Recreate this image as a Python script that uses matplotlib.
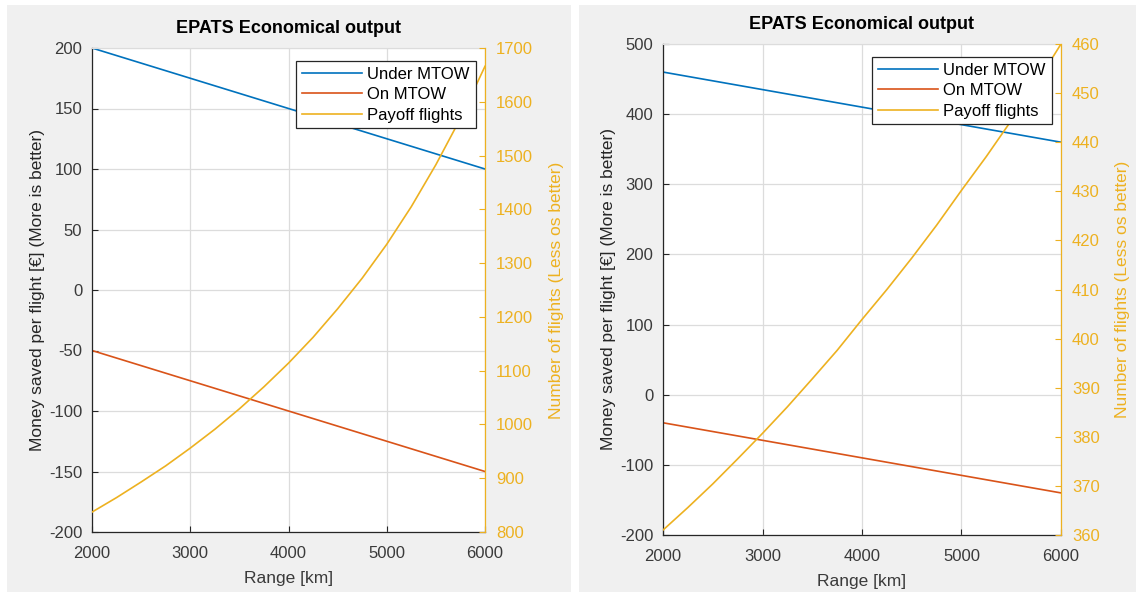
import matplotlib.pyplot as plt
import matplotlib.patches as mpatches

# Range grid [km]
range_km = [2000, 2250, 2500, 2750, 3000, 3250, 3500, 3750, 4000,
            4250, 4500, 4750, 5000, 5250, 5500, 5750, 6000]

# Case 1
under_mtow_1 = [200, 193.75, 187.5, 181.25, 175, 168.75, 162.5, 156.25, 150,
                143.75, 137.5, 131.25, 125, 118.75, 112.5, 106.25, 100]
on_mtow_1 = [-50, -56.25, -62.5, -68.75, -75, -81.25, -87.5, -93.75, -100,
             -106.25, -112.5, -118.75, -125, -131.25, -137.5, -143.75, -150]
payoff_1 = [837, 864, 893, 923, 956, 991, 1029, 1070, 1114,
            1162, 1215, 1272, 1335, 1405, 1483, 1569, 1666]

# Case 2
under_mtow_2 = [460, 453.75, 447.5, 441.25, 435, 428.75, 422.5, 416.25, 410,
                403.75, 397.5, 391.25, 385, 378.75, 372.5, 366.25, 360]
on_mtow_2 = [-40, -46.25, -52.5, -58.75, -65, -71.25, -77.5, -83.75, -90,
             -96.25, -102.5, -108.75, -115, -121.25, -127.5, -133.75, -140]
payoff_2 = [361.0, 365.6, 370.4, 375.5, 380.7, 386.1, 391.8, 397.6, 403.9,
            410.0, 416.4, 423.1, 430.2, 437.1, 444.4, 451.9, 460.0]

BLUE = "#0072BD"
ORANGE = "#D95319"
YELLOW = "#EDB120"
DARK = "#262626"
GRID = "#dcdcdc"
PANEL = "#f0f0f0"

plt.rcParams["font.family"] = ["Liberation Sans", "DejaVu Sans"]
plt.rcParams["axes.unicode_minus"] = False

fig = plt.figure(figsize=(11.36, 5.95), dpi=100)
fig.patch.set_facecolor("white")

# grey panel behind each subplot
for x0, w in [(7 / 1136, 564 / 1136), (579 / 1136, 557 / 1136)]:
    fig.patches.append(mpatches.Rectangle((x0, 3 / 595), w, 587 / 595,
                                          transform=fig.transFigure,
                                          facecolor=PANEL, edgecolor="none", zorder=-10))


def draw_panel(rect, under, on, payoff, ylim_l, yticks_l, ylim_r, yticks_r):
    ax = fig.add_axes(rect)
    ax.set_facecolor("white")
    l1, = ax.plot(range_km, under, color=BLUE, lw=1.2, label="Under MTOW")
    l2, = ax.plot(range_km, on, color=ORANGE, lw=1.2, label="On MTOW")
    ax.set_xlim(2000, 6000)
    ax.set_ylim(*ylim_l)
    ax.set_xticks([2000, 3000, 4000, 5000, 6000])
    ax.set_yticks(yticks_l)
    ax.grid(True, color=GRID, lw=0.9)
    ax.set_axisbelow(True)
    ax.tick_params(direction="in", colors=DARK, labelsize=12, length=4, width=0.8,
                   labelcolor="#3a3a3a")
    ax.tick_params(axis="x", pad=10)
    ax.tick_params(axis="y", pad=7)
    for s in ["left", "bottom"]:
        ax.spines[s].set_color(DARK)
        ax.spines[s].set_linewidth(0.9)
    ax.spines["top"].set_color(GRID)
    ax.spines["right"].set_visible(False)
    ax.set_xlabel("Range [km]", fontsize=12.5, color="#3a3a3a", labelpad=7)
    ax.set_ylabel("Money saved per flight [€] (More is better)", fontsize=12.5,
                  color=DARK, labelpad=3)
    ax.set_title("EPATS Economical output", fontsize=13, fontweight="bold",
                 color="black", pad=11)

    ax2 = ax.twinx()
    l3, = ax2.plot(range_km, payoff, color=YELLOW, lw=1.2, label="Payoff flights")
    ax2.set_ylim(*ylim_r)
    ax2.set_yticks(yticks_r)
    ax2.tick_params(direction="in", colors=YELLOW, labelsize=12, length=4, width=0.8,
                    pad=8)
    for s in ["left", "bottom", "top"]:
        ax2.spines[s].set_visible(False)
    ax2.spines["right"].set_color(YELLOW)
    ax2.spines["right"].set_linewidth(0.9)
    ax2.set_ylabel("Number of flights (Less os better)", fontsize=12.5, color=YELLOW,
                   rotation=90, labelpad=11)

    leg = ax2.legend(handles=[l1, l2, l3], loc="upper right", fontsize=12,
                     bbox_to_anchor=(0.985, 0.98), fancybox=False, framealpha=1,
                     edgecolor=DARK, handlelength=3.6, handletextpad=0.35,
                     borderpad=0.35, labelspacing=0.32, borderaxespad=0.2)
    leg.get_frame().set_linewidth(0.9)
    return ax, ax2


draw_panel([92 / 1136, 1 - 532 / 595, 393 / 1136, 484 / 595],
           under_mtow_1, on_mtow_1, payoff_1,
           (-200, 200), list(range(-200, 201, 50)),
           (800, 1700), list(range(800, 1701, 100)))

draw_panel([663 / 1136, 1 - 535 / 595, 398 / 1136, 491 / 595],
           under_mtow_2, on_mtow_2, payoff_2,
           (-200, 500), list(range(-200, 501, 100)),
           (360, 460), list(range(360, 461, 10)))

plt.savefig("out.png", dpi=100, facecolor=fig.get_facecolor())
plt.close()
